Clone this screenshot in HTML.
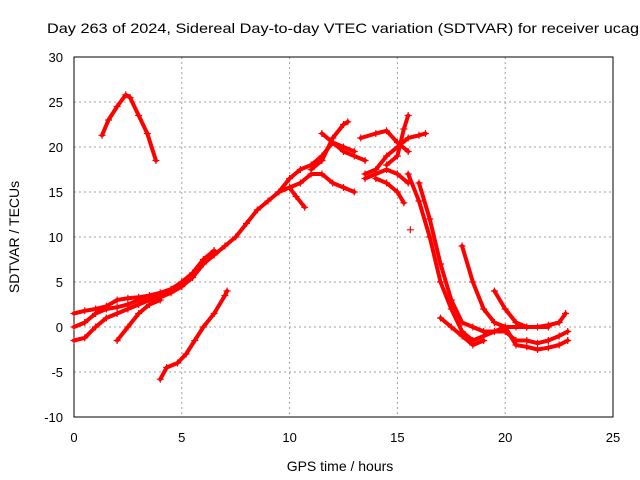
<!DOCTYPE html>
<html><head><meta charset="utf-8"><style>
body{margin:0;background:#fff;}
svg{display:block;font-family:"Liberation Sans",sans-serif;}
</style></head><body>
<svg id="chart" width="640" height="480">
<rect width="640" height="480" fill="#fff"/>
<text x="47" y="33" font-size="14" textLength="592" lengthAdjust="spacingAndGlyphs">Day 263 of 2024, Sidereal Day-to-day VTEC variation (SDTVAR) for receiver ucag</text>
<g id="grid"></g><g id="ticks"></g>
<rect x="74" y="57" width="539" height="360" fill="none" stroke="#000"/>
<g id="marks"></g>
<text x="340" y="471" font-size="14" text-anchor="middle">GPS time / hours</text>
<text x="0" y="0" font-size="14" text-anchor="middle" transform="translate(19,237) rotate(-90)">SDTVAR / TECUs</text>
</svg>
<script>
const xTicks=[0,5,10,15,20,25];
const yTicks=[-10,-5,0,5,10,15,20,25,30];
const tracks=[
[[1.3,21.3],[1.6,23],[2,24.5],[2.4,25.8],[2.6,25.5],[3,23.5],[3.4,21.5],[3.8,18.5]],
[[0,-1.5],[0.5,-1.2],[1,0],[1.5,1],[2,1.5],[2.5,2],[3,2.5],[3.5,3],[4,3.3],[4.5,3.8],[5,4.5],[5.5,5.5],[6,7],[6.5,8],[7,9],[7.5,10],[8,11.5],[8.5,13],[9,14],[9.5,15],[10,16.5],[10.5,17.5],[11,18],[11.5,19],[12,20.5],[12.5,20],[13,19.5]],
[[0,1.5],[0.5,1.8],[1,2],[1.5,2.3],[2,3],[2.5,3.2],[3,3.3],[3.5,3.5],[4,3.8],[4.5,4.2],[5,5],[5.5,6],[6,7.5],[6.5,8.5]],
[[0,0],[0.5,0.5],[1,1.5],[1.5,2],[2,2.2],[2.5,2.5],[3,3],[3.5,3.2],[4,3.5],[4.5,4],[5,4.8]],
[[2,-1.5],[2.5,0],[3,1.5],[3.5,2.5],[4,3]],
[[4,-5.8],[4.3,-4.5],[4.8,-4],[5.2,-3],[5.6,-1.5],[6,0],[6.5,1.5],[7,3.5],[7.1,4]],
[[9.5,15],[10,15.5],[10.3,14.5],[10.7,13.3]],
[[10,15.5],[10.5,16],[11,17],[11.5,17],[12,16],[12.5,15.5],[13,15]],
[[11,17.5],[11.5,18.5],[12,21],[12.5,22.5],[12.7,22.8]],
[[11.5,21.5],[12,20.5],[12.5,19.5],[13,19],[13.5,18.5]],
[[13.5,17],[14,17.5],[14.5,19],[15,20],[15.5,21],[16,21.3],[16.3,21.5]],
[[13.3,21],[14,21.5],[14.5,21.8],[15,20.5],[15.5,19.5]],
[[14.5,18],[15,19],[15.3,22],[15.5,23.5]],
[[14,16.5],[14.5,16],[15,15],[15.3,13.8]],
[[13.5,16.5],[14,17],[14.5,17.5],[15,17],[15.5,16]],
[[15.5,17],[16,14],[16.5,10],[17,5],[17.5,2],[18,-0.5],[18.5,-1.5],[19,-1],[19.5,-0.5],[20,0],[20.5,0],[21,0],[21.5,0],[22,0.2],[22.5,0.5],[22.8,1.5]],
[[16,16],[16.5,12],[17,7],[17.5,3],[18,0.5],[18.5,0],[19,-0.5],[20,-0.5],[20.5,-1.5],[21,-1.5],[21.5,-1.8],[22,-1.5],[22.5,-1],[22.9,-0.5]],
[[18,9],[18.5,5],[19,2],[19.5,0.5],[20,0],[20.5,-2],[21,-2.2],[21.5,-2.5],[22,-2.3],[22.5,-2],[22.9,-1.5]],
[[19.5,4],[20,2],[20.5,0.5],[21,0],[22,0]],
[[17,1],[17.5,0],[18,-1],[18.5,-2],[19,-1.5]],
[[15.6,10.8]]
];
const NS="http://www.w3.org/2000/svg";
const X=v=>74+v*539/25, Y=v=>417-(v+10)*9;
const grid=document.getElementById('grid'),tk=document.getElementById('ticks'),mk=document.getElementById('marks');
function el(t,a,p){const e=document.createElementNS(NS,t);for(const k in a)e.setAttribute(k,a[k]);p.appendChild(e);return e;}
xTicks.forEach(v=>{
 const g=el('line',{x1:X(v),x2:X(v),y1:57,y2:417,stroke:'#a0a0a0','stroke-dasharray':'2,3'},grid);
 
 
 const t=el('text',{x:X(v),y:442,'font-size':13,'text-anchor':'middle'},tk);t.textContent=v;
 
 
});
yTicks.forEach(v=>{
 const g=el('line',{x1:74,x2:613,y1:Y(v),y2:Y(v),stroke:'#a0a0a0','stroke-dasharray':'2,3'},grid);
 
 
 const t=el('text',{x:63,y:Y(v)+5,'font-size':13,'text-anchor':'end'},tk);t.textContent=v;
 
 
});
tracks.forEach(tr=>{
 if(tr.length>1){
  const p=el('polyline',{points:tr.map(d=>X(d[0])+','+Y(d[1])).join(' '),fill:'none',stroke:'#f00','stroke-width':4,'stroke-linejoin':'round','stroke-linecap':'round'},mk);
  
  
 }
 tr.forEach(d=>{
  const x=X(d[0]),y=Y(d[1]);
  const m=el('path',{d:`M${x-3.5},${y}H${x+3.5}M${x},${y-3.5}V${y+3.5}`,stroke:'#f00','stroke-width':1.2},mk);
  
  
 });
});
</script>
</body></html>
